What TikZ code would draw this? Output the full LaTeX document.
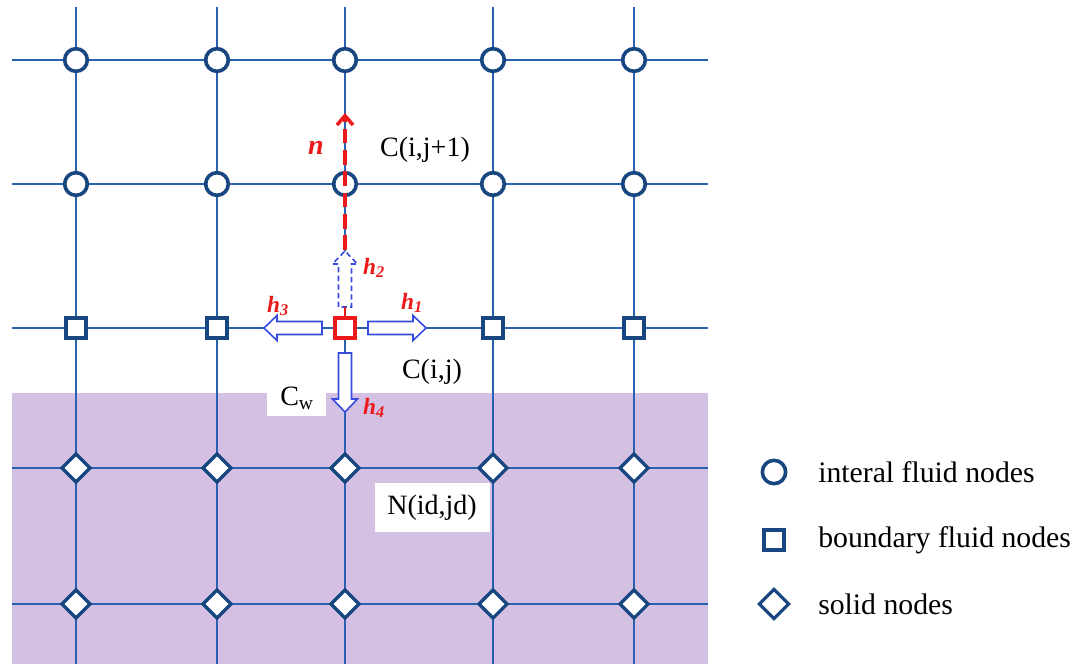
\documentclass[tikz,border=0pt]{standalone}
\usepackage{fontspec}
\setmainfont{Liberation Serif}
\usetikzlibrary{shapes.geometric,arrows.meta}
\definecolor{gridblue}{RGB}{40,96,178}
\definecolor{nodeblue}{RGB}{24,70,128}
\definecolor{solidpurple}{RGB}{212,192,226}
\definecolor{arrowblue}{RGB}{55,75,225}
\definecolor{nred}{RGB}{235,25,25}
\tikzset{
  gridline/.style={draw=gridblue,line width=1.5pt},
  fluidnode/.style={circle,draw=nodeblue,fill=white,line width=2.7pt,minimum size=17pt,inner sep=0pt},
  bndnode/.style={rectangle,draw=nodeblue,fill=white,line width=2.7pt,minimum size=15pt,inner sep=0pt},
  solidnode/.style={diamond,draw=nodeblue,fill=white,line width=2.4pt,minimum size=22pt,inner sep=0pt},
  hollow/.style={draw=arrowblue,fill=white,line width=1.2pt,line join=miter},
  lbl/.style={font=\fontsize{21}{24}\selectfont,inner sep=1pt},
  hlbl/.style={font=\fontsize{17.5}{19}\selectfont\bfseries\itshape,text=nred,inner sep=0pt},
  legtext/.style={font=\fontsize{22.3}{25}\selectfont,anchor=west,inner sep=0pt},
}
\newcommand{\harrow}[1]{(0,-6.5) -- (#1-13,-6.5) -- (#1-13,-12.5) -- (#1,0) -- (#1-13,12.5) -- (#1-13,6.5) -- (0,6.5) -- cycle}
\begin{document}
\begin{tikzpicture}[x=0.75pt,y=-0.75pt]
\useasboundingbox (0,0) rectangle (1090,664);
% solid region
\fill[solidpurple] (12,393) rectangle (708,664);
% grid line end coordinates
\foreach \y [count=\j] in {60,184,328,468,604}{
  \coordinate (L\j) at (12,\y);
  \coordinate (R\j) at (708,\y);
}
\foreach \x [count=\i] in {76,217,345,493,634}{
  \coordinate (T\i) at (\x,7);
  \coordinate (B\i) at (\x,664);
}
\foreach \k in {1,...,5}{
  \draw[gridline] (L\k) -- (R\k);
  \draw[gridline] (T\k) -- (B\k);
}
% nodes
\foreach \x [count=\i] in {76,217,345,493,634}{
  \node[fluidnode] (f1\i) at (\x,60) {};
  \node[fluidnode] (f2\i) at (\x,184) {};
  \node[solidnode] (s1\i) at (\x,468) {};
  \node[solidnode] (s2\i) at (\x,604) {};
}
\foreach \x [count=\i] in {76,217,493,634}{
  \node[bndnode] (b\i) at (\x,328) {};
}
% red center node
\node[rectangle,draw=nred,fill=white,line width=2.8pt,minimum size=15pt,inner sep=0pt] (cij) at (345,328) {};
% hollow arrows
\begin{scope}[shift={(368,328)}]
  \draw[hollow] \harrow{58};
\end{scope}
\begin{scope}[shift={(322,328)},rotate=180]
  \draw[hollow] \harrow{58};
\end{scope}
\begin{scope}[shift={(345,353)},rotate=270]
  \draw[hollow] \harrow{59};
\end{scope}
\begin{scope}[shift={(345,307)},rotate=90]
  \draw[hollow,dash pattern=on 4pt off 2.5pt] \harrow{56};
\end{scope}
% red normal
\coordinate (nstart) at (345,250);
\coordinate (ntip) at (345,113);
\draw[nred,line width=2pt] (cij.north) -- (345,307);
\draw[nred,line width=3pt,dash pattern=on 11pt off 5pt,-{Straight Barb[length=7pt,width=12pt,line width=2.6pt]}] (nstart) -- (ntip);
% labels
\node[font=\fontsize{21}{23}\selectfont\bfseries\itshape,text=nred] (nlab) at (316,148) {n};
\node[lbl] (cj1) at (425,150) {C(i,j+1)};
\node[lbl] (cijl) at (432,372) {C(i,j)};
\node[hlbl] (h2) at (374,268) {h\textsubscript{2}};
\node[hlbl] (h1) at (412,303) {h\textsubscript{1}};
\node[hlbl] (h3) at (278,306) {h\textsubscript{3}};
\node[hlbl] (h4) at (374,408) {h\textsubscript{4}};
\fill[white] (267,378) rectangle (326,416);
\node[lbl] (cw) at (297,398) {C\textsubscript{w}};
\fill[white] (375,483) rectangle (490,532);
\node[lbl] (nid) at (432,508) {N(id,jd)};
% legend
\node[fluidnode,minimum size=17.5pt] (lg1) at (774,472) {};
\node[bndnode,minimum size=15pt] (lg2) at (774,540) {};
\node[solidnode,minimum size=23pt] (lg3) at (774,604) {};
\node[legtext] (lt1) at (818,472) {interal fluid nodes};
\node[legtext] (lt2) at (818,540) {boundary fluid nodes};
\node[legtext] (lt3) at (818,604) {solid nodes};
\end{tikzpicture}
\end{document}
